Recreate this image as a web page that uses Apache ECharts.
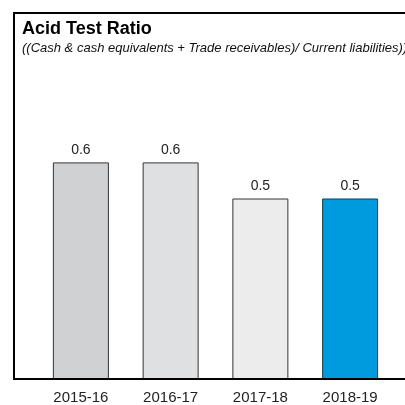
<!DOCTYPE html>
<html><head><meta charset="utf-8">
<script src="https://cdn.jsdelivr.net/npm/echarts@6/dist/echarts.min.js"></script>
<style>html,body{margin:0;padding:0;background:#fff}#c{width:405px;height:405px}</style>
</head><body><div id="c"></div>
<script>
const categories = ['2015-16', '2016-17', '2017-18', '2018-19'];
const values = [0.6, 0.6, 0.5, 0.5];
const barColors = ['#d0d1d3', '#dfe0e2', '#ececec', '#009ade'];
const titleText = 'Acid Test Ratio';
const subtitleText = '((Cash & cash equivalents + Trade receivables)/ Current liabilities))';

const chart = echarts.init(document.getElementById('c'), null, {renderer: 'canvas'});
chart.setOption({
  animation: false,
  backgroundColor: '#fff',
  title: {
    text: titleText, subtext: subtitleText, left: 17, top: 15, itemGap: 4,
    textStyle: {fontFamily: 'Liberation Sans, Arial', fontWeight: 'bold', fontSize: 18, color: '#000'},
    subtextStyle: {fontFamily: 'Liberation Sans, Arial', fontStyle: 'italic', fontSize: 13, color: '#111'}
  },
  graphic: [{
    type: 'rect', z: 100, silent: true,
    shape: {x: 14, y: 13, width: 430, height: 366},
    style: {fill: 'none', stroke: '#000', lineWidth: 2}
  }],
  grid: {left: 36, width: 359, top: 18, height: 361},
  xAxis: {
    type: 'category', data: categories,
    axisLine: {show: false}, axisTick: {show: false},
    axisLabel: {margin: 11, fontFamily: 'Liberation Sans, Arial', fontSize: 15, color: '#222'}
  },
  yAxis: {type: 'value', min: 0, max: 1, show: false, splitLine: {show: false}},
  series: [{
    type: 'bar', barWidth: 56,
    data: values.map((v, i) => ({value: v, itemStyle: {color: barColors[i]}})),
    itemStyle: {borderColor: '#333', borderWidth: 1},
    label: {show: true, position: 'top', distance: 5, formatter: p => p.value.toFixed(1),
      fontFamily: 'Liberation Sans, Arial', fontSize: 14, color: '#222'}
  }]
});
</script></body></html>
